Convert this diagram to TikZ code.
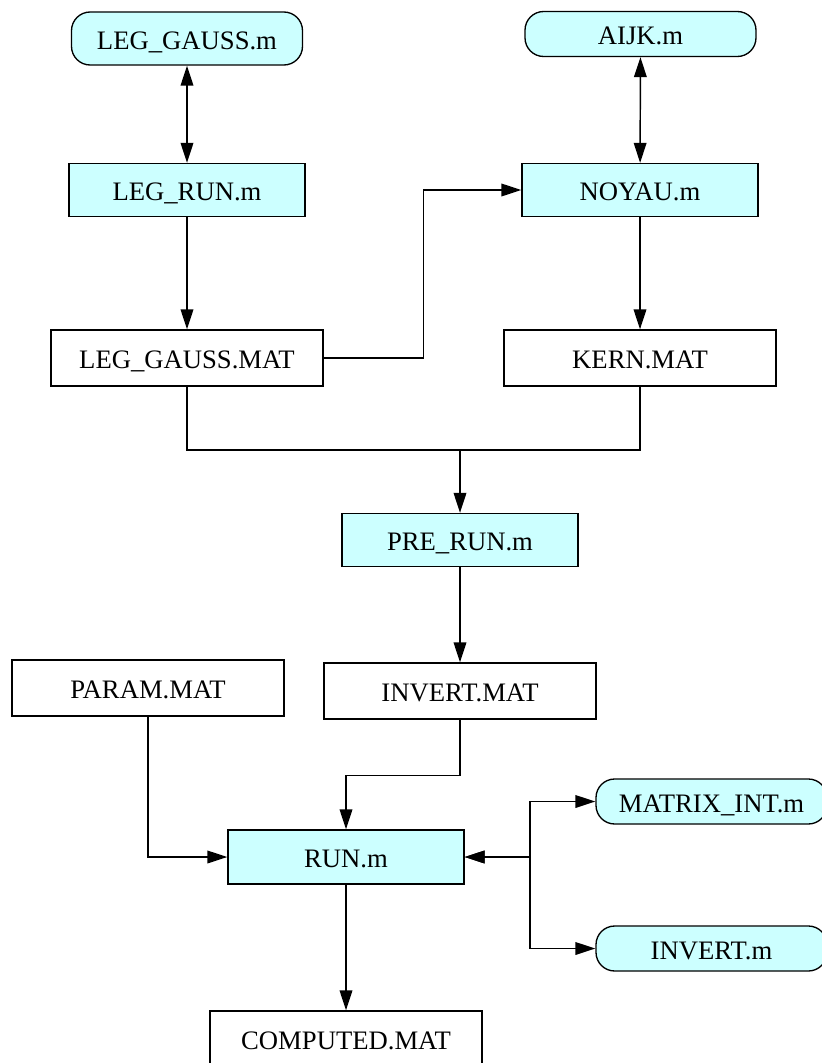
\documentclass[tikz,border=0pt]{standalone}
\usepackage{fontspec}
\setmainfont{Liberation Serif}
\usetikzlibrary{arrows.meta,calc}
\definecolor{lcyan}{HTML}{CCFFFF}
\begin{document}
\begin{tikzpicture}[x=0.75pt,y=-0.75pt,
  every node/.style={font=\fontsize{20}{24}\selectfont, inner sep=0pt, line width=1pt, text height=16pt, text depth=0pt},
  proc/.style={draw, fill=lcyan, minimum width=177pt, minimum height=39.75pt},
  data/.style={draw, fill=white, minimum width=204pt, minimum height=42pt},
  func/.style={draw, fill=lcyan, rounded corners=14pt, minimum width=173.25pt},
  arr/.style={line width=1.1pt, -{Triangle[length=15pt,width=9.5pt]}},
  dbl/.style={line width=1.1pt, {Triangle[length=15pt,width=9.5pt]}-{Triangle[length=15pt,width=9.5pt]}},
  ln/.style={line width=1.1pt}]
\useasboundingbox (0,0) rectangle (821,1063);
\fill[white] (0,0) rectangle (821,1063);
\node[func, minimum height=39.75pt] (lgm) at (187,38.5) {LEG\_GAUSS.m};
\node[func, minimum height=33.75pt] (aijk) at (640.5,34) {AIJK.m};
\node[proc] (legrun) at (187,190) {LEG\_RUN.m};
\node[proc] (noyau) at (640,190) {NOYAU.m};
\node[data] (lgmat) at (187,358) {LEG\_GAUSS.MAT};
\node[data] (kern) at (640,358) {KERN.MAT};
\node[proc] (prerun) at (460,540) {PRE\_RUN.m};
\node[data] (param) at (148,688) {PARAM.MAT};
\node[data] (invmat) at (460,691) {INVERT.MAT};
\node[proc, minimum height=40.5pt] (run) at (346,857) {RUN.m};
\node[func, minimum height=33.75pt] (mint) at (711.5,801.5) {MATRIX\_INT.m};
\node[func, minimum height=33.75pt] (invm) at (711.5,948.5) {INVERT.m};
\node[data] (comp) at (346,1039) {COMPUTED.MAT};
\coordinate (j) at (460,450);
\coordinate (b) at (530,857);
\draw[dbl] (lgm) -- (legrun);
\draw[dbl] (aijk) -- (noyau);
\draw[arr] (legrun) -- (lgmat);
\draw[arr] (noyau) -- (kern);
\draw[arr] (lgmat.east) -- ++(100,0) |- (noyau.west);
\draw[ln] (lgmat.south) |- (j) -| (kern.south);
\draw[arr] (j) -- (prerun.north);
\draw[arr] (prerun) -- (invmat);
\draw[arr] (param.south) |- (run.west);
\draw[arr] (invmat.south) -- ++(0,56) -| (run.north);
\draw[dbl] (run.east) -- (b) |- (mint.west);
\draw[dbl] (run.east) -- (b) |- (invm.west);
\draw[arr] (run) -- (comp);
\end{tikzpicture}
\end{document}
